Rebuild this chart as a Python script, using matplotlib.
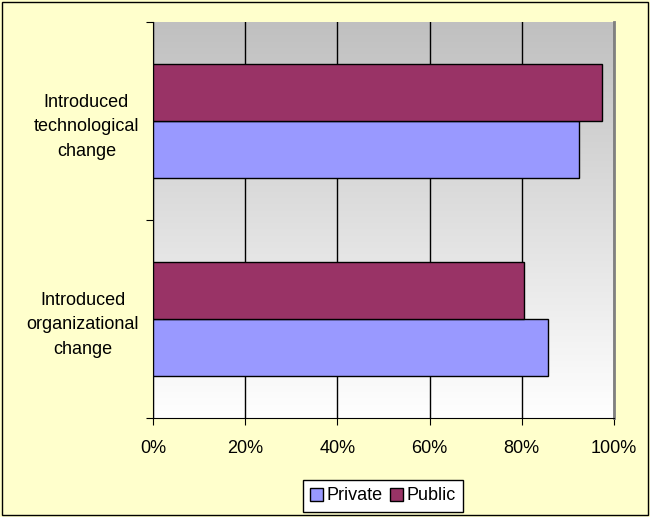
import numpy as np
import matplotlib
matplotlib.use('Agg')
import matplotlib.pyplot as plt
from matplotlib.ticker import FuncFormatter, FixedLocator, NullFormatter
from matplotlib.patches import Rectangle

categories = ['Introduced\norganizational\nchange', 'Introduced\ntechnological\nchange']
private = [0.857, 0.924]
public = [0.805, 0.974]
series_names = ['Private', 'Public']
colors = ['#9999FF', '#993366']

plt.rcParams['font.family'] = ['Liberation Sans', 'DejaVu Sans']
plt.rcParams['font.size'] = 13

fig = plt.figure(figsize=(6.5, 5.17), dpi=100, facecolor='#FFFFCC')
fig.patches.append(Rectangle((0.003, 0.003), 0.994, 0.994, transform=fig.transFigure,
                             fill=False, edgecolor='black', lw=1))

ax = fig.add_axes([153 / 650, 1 - 418 / 517, 461 / 650, 396 / 517])

# gray-to-white gradient behind the bars
grad = np.linspace(1.0, 0.0, 256).reshape(-1, 1)
ax.imshow(grad, extent=[0, 1, 0, 1], transform=ax.transAxes, aspect='auto',
          cmap=matplotlib.colors.LinearSegmentedColormap.from_list('g', ['#FFFFFF', '#C0C0C0']),
          vmin=0, vmax=1, zorder=0)

y = np.arange(len(categories))
h = 0.286
ax.barh(y - h / 2, private, height=h, color=colors[0], edgecolor='black', lw=1, zorder=3,
        label=series_names[0])
ax.barh(y + h / 2, public, height=h, color=colors[1], edgecolor='black', lw=1, zorder=3,
        label=series_names[1])

ax.set_xlim(0, 1)
ax.set_ylim(-0.5, 1.5)
ax.xaxis.set_major_locator(FixedLocator([0, 0.2, 0.4, 0.6, 0.8, 1.0]))
ax.xaxis.set_major_formatter(FuncFormatter(lambda v, p: f'{v * 100:.0f}%'))
ax.grid(axis='x', color='black', lw=1, zorder=1)

ax.yaxis.set_major_locator(FixedLocator([-0.5, 0.5, 1.5]))
ax.yaxis.set_major_formatter(NullFormatter())
ax.yaxis.set_minor_locator(FixedLocator(y))
ax.set_yticklabels(categories, minor=True, ha='right', multialignment='center',
                   linespacing=1.6)
ax.tick_params(axis='y', which='minor', length=0, pad=10)
ax.tick_params(axis='y', which='major', length=5, direction='out')
ax.tick_params(axis='x', length=5, direction='out', pad=11)

ax.spines['top'].set_visible(False)
ax.spines['right'].set_color('#808080')
ax.spines['right'].set_linewidth(2)
ax.spines['left'].set_color('black')
ax.spines['bottom'].set_color('black')

fig.legend(loc='center', bbox_to_anchor=(383 / 650, 1 - 496 / 517), ncol=2,
           frameon=True, fancybox=False, edgecolor='black', framealpha=1,
           handlelength=0.7, handleheight=0.7, handletextpad=0.2, columnspacing=0.4,
           borderpad=0.4)

fig.savefig('out.png', dpi=100, facecolor=fig.get_facecolor())
